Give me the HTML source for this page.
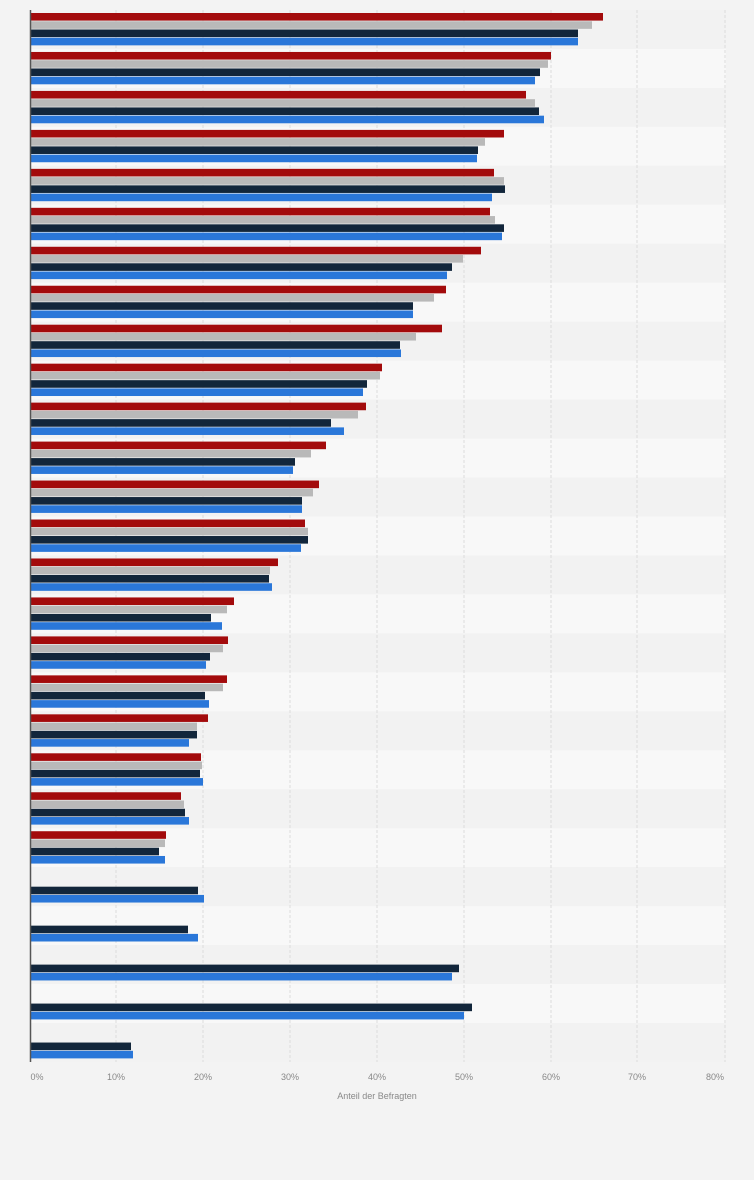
<!DOCTYPE html>
<html><head><meta charset="utf-8"><style>
html,body{margin:0;padding:0;background:#f3f3f3;}
svg{display:block;font-family:"Liberation Sans",sans-serif;}
</style></head><body>
<svg id="c" width="754" height="1180" xmlns="http://www.w3.org/2000/svg">
<rect width="754" height="1180" fill="#f3f3f3"/>
<g id="bands"></g>
<g id="grid"></g>
<g id="bars"></g>
<line x1="30.5" y1="10" x2="30.5" y2="1062" stroke="#555" stroke-width="1.5"/>
<g font-size="9" fill="#888" text-anchor="middle">
<text x="37" y="1080">0%</text>
<text x="116" y="1080">10%</text>
<text x="203" y="1080">20%</text>
<text x="290" y="1080">30%</text>
<text x="377" y="1080">40%</text>
<text x="464" y="1080">50%</text>
<text x="551" y="1080">60%</text>
<text x="637" y="1080">70%</text>
<text x="715" y="1080">80%</text>
<text x="377" y="1099">Anteil der Befragten</text>
</g>
</svg>
<script>
var ns="http://www.w3.org/2000/svg";
function el(p,t,a){var e=document.createElementNS(ns,t);for(var k in a)e.setAttribute(k,a[k]);document.getElementById(p).appendChild(e);}
var d=[[603,592,578,578],[551,548,540,535],[526,535,539,544],[504,485,478,477],[494,504,505,492],[490,495,504,502],[481,463,452,447],[446,434,413,413],[442,416,400,401],[382,380,367,363],[366,358,331,344],[326,311,295,293],[319,313,302,302],[305,308,308,301],[278,270,269,272],[234,227,211,222],[228,223,210,206],[227,223,205,209],[208,197,197,189],[201,202,200,203],[181,184,185,189],[166,165,159,165],[0,0,198,204],[0,0,188,198],[0,0,459,452],[0,0,472,464],[0,0,131,133]];
var cols=["#a30b0c","#b9b9b9","#12263b","#2a77d9"];
var h=1052/27;
for(var i=0;i<27;i++){var g=10+i*h;
el("bands","rect",{x:30,y:g,width:696,height:h,fill:i%2?"#f8f8f8":"#f2f2f2"});
for(var j=0;j<4;j++){var x=d[i][j];if(!x)continue;
el("bars","rect",{x:30,y:g+3+j*8.25,width:x-30,height:7.6,fill:cols[j]});}}
[116,203,290,377,464,551,637,725].forEach(function(x){el("grid","line",{x1:x,y1:10,x2:x,y2:1062,stroke:"#dcdcdc","stroke-dasharray":"3,2","stroke-width":1});});
</script>
</body></html>
